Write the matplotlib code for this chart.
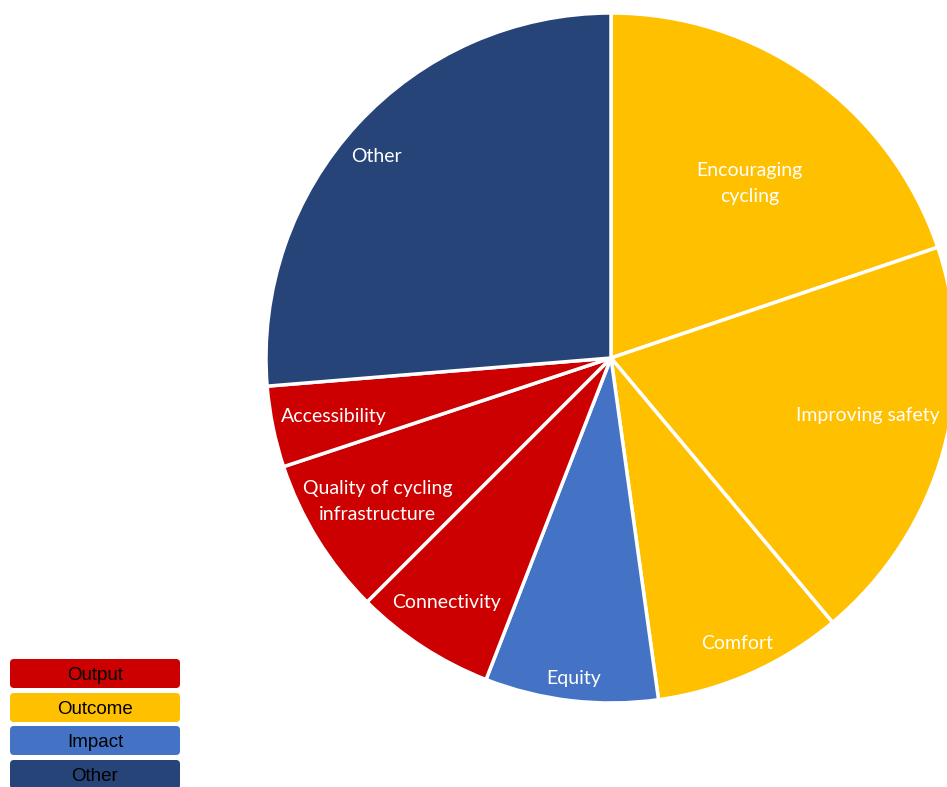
import numpy as np
import matplotlib
matplotlib.use("Agg")
import matplotlib.pyplot as plt
from matplotlib.patches import FancyBboxPatch

# slice data (share of mentions, %), clockwise from 12 o'clock
labels = ["Encouraging\ncycling", "Improving safety", "Comfort", "Equity",
          "Connectivity", "Quality of cycling\ninfrastructure", "Accessibility", "Other"]
shares = [19.8, 19.1, 8.9, 8.1, 6.6, 7.4, 3.8, 26.3]
groups = ["Outcome", "Outcome", "Outcome", "Impact",
          "Output", "Output", "Output", "Other"]
# label placement: fraction of radius, and nudge (deg, clockwise) off the wedge middle
label_radius = [0.65, 0.76, 0.90, 0.93, 0.85, 0.79, 0.82, 0.90]
label_nudge = [2.5, -3.5, 0, 0, 1.0, 0.5, 0, -1.8]

legend_groups = ["Output", "Outcome", "Impact", "Other"]
group_colors = {
    "Output": "#CC0000",
    "Outcome": "#FFC000",
    "Impact": "#4472C4",
    "Other": "#264478",
}

W, H = 947, 787
fig = plt.figure(figsize=(W / 100, H / 100), dpi=100)

cx, cy, r = 611, 358, 345
ax = fig.add_axes([(cx - r) / W, (H - cy - r) / H, 2 * r / W, 2 * r / H])
wedges, _ = ax.pie(shares, colors=[group_colors[g] for g in groups],
                   startangle=90, counterclock=False, radius=1,
                   wedgeprops=dict(edgecolor="white", linewidth=2.5))
ax.set_xlim(-1, 1)
ax.set_ylim(-1, 1)
ax.set_aspect("equal")
ax.axis("off")

for w, lab, d, nudge in zip(wedges, labels, label_radius, label_nudge):
    mid = np.deg2rad((w.theta1 + w.theta2) / 2 - nudge)
    ax.text(d * np.cos(mid), d * np.sin(mid) - 0.006, lab, ha="center", va="center",
            color="white", fontsize=14, family="Lato", linespacing=1.65)

# category key in the lower left
lax = fig.add_axes([0, 0, 1, 1])
lax.set_xlim(0, W)
lax.set_ylim(H, 0)
lax.axis("off")
box_top = [659, 693, 726, 760]
for g, top in zip(legend_groups, box_top):
    lax.add_patch(FancyBboxPatch((10, top), 170, 29,
                                 boxstyle="round,pad=0,rounding_size=4",
                                 facecolor=group_colors[g], edgecolor="none"))
    lax.text(95, top + 16.5, g, ha="center", va="center", fontsize=13.5,
             family="Liberation Sans", color="black")

fig.savefig("out.png", dpi=100)
